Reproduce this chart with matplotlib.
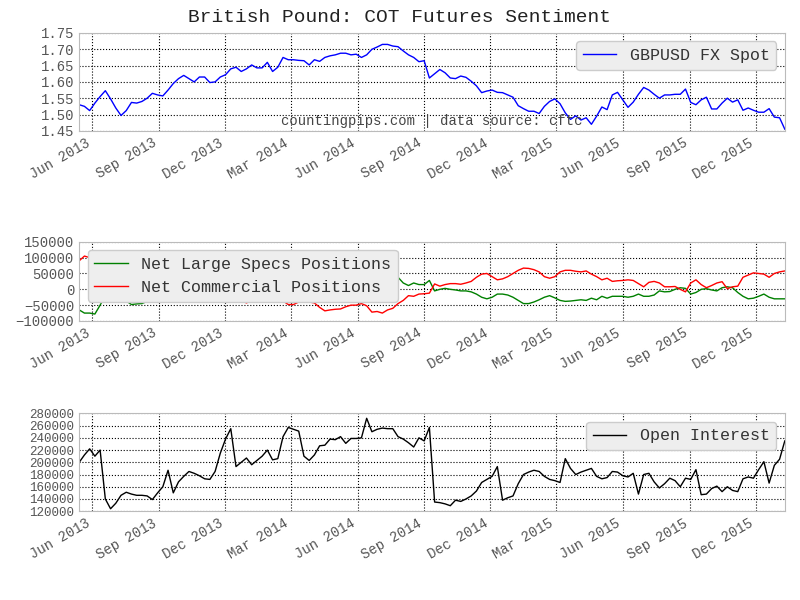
import matplotlib
matplotlib.use("Agg")
import matplotlib.pyplot as plt
import matplotlib.dates as mdates
import pandas as pd

plt.rcParams['font.family'] = 'Liberation Mono'

dates = pd.date_range('2013-05-14', '2016-01-10', periods=136)

gbpusd = [1.530,1.525,1.512,1.535,1.555,1.573,1.548,1.520,1.497,1.512,1.537,1.535,1.540,1.550,1.565,1.560,1.557,1.575,1.595,1.610,
          1.620,1.610,1.600,1.615,1.615,1.598,1.600,1.615,1.622,1.640,1.645,1.632,1.640,1.652,1.643,1.643,1.660,1.632,1.645,1.675,
          1.668,1.668,1.666,1.665,1.652,1.668,1.663,1.675,1.680,1.683,1.688,1.688,1.683,1.685,1.675,1.683,1.700,1.707,1.715,1.715,
          1.710,1.708,1.695,1.683,1.675,1.662,1.665,1.612,1.625,1.638,1.628,1.612,1.610,1.618,1.614,1.602,1.588,1.567,1.572,1.575,
          1.568,1.567,1.560,1.553,1.527,1.518,1.510,1.510,1.503,1.525,1.540,1.548,1.533,1.505,1.485,1.496,1.483,1.490,1.470,1.495,
          1.523,1.515,1.560,1.568,1.545,1.522,1.538,1.562,1.583,1.575,1.562,1.550,1.560,1.560,1.562,1.562,1.578,1.537,1.530,1.545,
          1.553,1.517,1.517,1.535,1.550,1.538,1.545,1.513,1.520,1.513,1.507,1.507,1.518,1.492,1.490,1.455]

large_specs = [-65000,-75000,-75000,-78000,-50000,-20000,-18000,-30000,-33000,-37000,-48000,-46000,-45000,-38000,-37000,-41000,-35000,-12000,3000,
               5000,8000,12000,10000,5000,-5000,-8000,0,2000,
               20000,25000,22000,25000,35000,30000,22000,20000,32000,18000,20000,30000,40000,42000,35000,33000,35000,38000,50000,60000,
               58000,55000,55000,48000,45000,45000,40000,45000,62000,60000,65000,55000,50000,38000,
               20000,12000,20000,15000,15000,28000,-5000,0,3000,0,-2000,-5000,-5000,-8000,-15000,-25000,-30000,-25000,-15000,-15000,
               -18000,-25000,-35000,-45000,-45000,-40000,-33000,-25000,-20000,-27000,-35000,-38000,-37000,-35000,-33000,-35000,-28000,-33000,
               -22000,-28000,-22000,-22000,-22000,-25000,-22000,-15000,-22000,-22000,-18000,-5000,-8000,-7000,0,5000,3000,-15000,-10000,0,
               2000,-2000,-5000,5000,8000,5000,-10000,-22000,-30000,-28000,-22000,-15000,-25000,-30000,-30000,-30000]

commercial = [90000,105000,100000,95000,70000,40000,35000,45000,50000,55000,65000,62000,60000,52000,50000,55000,48000,20000,
              -10000,-13000,-17000,-22000,-27000,-20000,-5000,3000,-5000,-10000,
              -33000,-35000,-33000,-35000,-43000,-35000,-28000,-25000,-40000,-20000,-22000,-37000,-48000,-48000,-40000,-38000,-40000,
              -43000,-57000,-68000,-65000,-63000,-62000,-55000,-50000,-50000,-45000,-52000,-72000,-70000,-75000,-65000,-60000,-45000,
              -35000,-20000,-22000,-15000,-14000,-12000,17000,10000,15000,18000,18000,16000,20000,25000,38000,48000,50000,40000,
              30000,33000,40000,50000,60000,67000,66000,62000,55000,40000,35000,40000,55000,60000,60000,57000,55000,58000,48000,40000,
              30000,35000,25000,27000,28000,30000,28000,18000,8000,22000,25000,20000,8000,8000,9000,0,-8000,20000,30000,15000,
              5000,12000,20000,24000,2000,8000,10000,38000,45000,52000,50000,48000,38000,50000,55000,58000]

open_interest = [200000,212000,222000,210000,220000,140000,124000,133000,146000,151000,148000,146000,146000,145000,139000,150000,160000,187000,
                 150000,168000,177000,185000,182000,178000,173000,172000,185000,215000,238000,255000,193000,200000,207000,196000,203000,
                 210000,220000,204000,206000,242000,257000,254000,251000,210000,203000,212000,227000,228000,238000,237000,242000,231000,
                 239000,239000,240000,272000,250000,254000,256000,255000,255000,242000,238000,232000,225000,240000,235000,257000,135000,
                 134000,132000,129000,138000,136000,140000,145000,153000,167000,172000,177000,193000,138000,142000,145000,165000,180000,
                 184000,187000,185000,177000,172000,170000,167000,206000,190000,180000,184000,187000,190000,177000,173000,175000,185000,
                 184000,178000,176000,182000,148000,180000,182000,168000,158000,165000,174000,170000,160000,174000,172000,188000,147000,
                 148000,157000,161000,152000,160000,154000,152000,173000,176000,174000,188000,201000,166000,195000,205000,235000]

fig = plt.figure(figsize=(8, 6), dpi=100)
fig.suptitle('British Pound: COT Futures Sentiment', fontsize=14, y=0.985, color='#222222')

def style(ax, ysize=10):
    ax.grid(True, color='black', linestyle=':', linewidth=0.8)
    for s in ax.spines.values():
        s.set_color('#bbbbbb')
    ax.tick_params(colors='#555555', labelsize=10, length=0)
    ax.tick_params(axis='y', labelsize=ysize)
    ax.xaxis.set_major_locator(mdates.MonthLocator(bymonth=[3, 6, 9, 12]))
    ax.xaxis.set_major_formatter(mdates.DateFormatter('%b %Y'))
    for lab in ax.get_xticklabels():
        lab.set_rotation(30); lab.set_ha('right')
    ax.set_xlim(dates[0], dates[-1])

def leg(ax, loc):
    lg = ax.legend(loc=loc, fontsize=12, frameon=True, fancybox=True)
    lg.get_frame().set_facecolor('#eeeeee')
    lg.get_frame().set_edgecolor('#cccccc')
    lg.get_frame().set_alpha(1)
    for t in lg.get_texts():
        t.set_color('#333333')

ax1 = fig.add_axes([0.099, 0.782, 0.882, 0.163])
ax1.plot(dates, gbpusd, color='blue', lw=1, label='GBPUSD FX Spot')
ax1.set_ylim(1.45, 1.75)
ax1.set_yticks([1.45, 1.50, 1.55, 1.60, 1.65, 1.70, 1.75])
ax1.yaxis.set_major_formatter(matplotlib.ticker.FormatStrFormatter('%.2f'))
style(ax1)
leg(ax1, 'upper right')
ax1.text(0.5, 0.03, 'countingpips.com | data source: cftc', transform=ax1.transAxes,
         ha='center', va='bottom', fontsize=10, color='#444444')

ax2 = fig.add_axes([0.099, 0.465, 0.882, 0.132])
ax2.plot(dates, large_specs, color='green', lw=1, label='Net Large Specs Positions')
ax2.plot(dates, commercial, color='red', lw=1, label='Net Commercial Positions')
ax2.set_ylim(-100000, 150000)
ax2.set_yticks(range(-100000, 150001, 50000))
style(ax2)
leg(ax2, 'upper left')

ax3 = fig.add_axes([0.099, 0.148, 0.882, 0.163])
ax3.plot(dates, open_interest, color='black', lw=1, label='Open Interest')
ax3.set_ylim(120000, 280000)
ax3.set_yticks(range(120000, 280001, 20000))
style(ax3, ysize=9)
leg(ax3, 'upper right')

fig.savefig('out.png', dpi=100)
